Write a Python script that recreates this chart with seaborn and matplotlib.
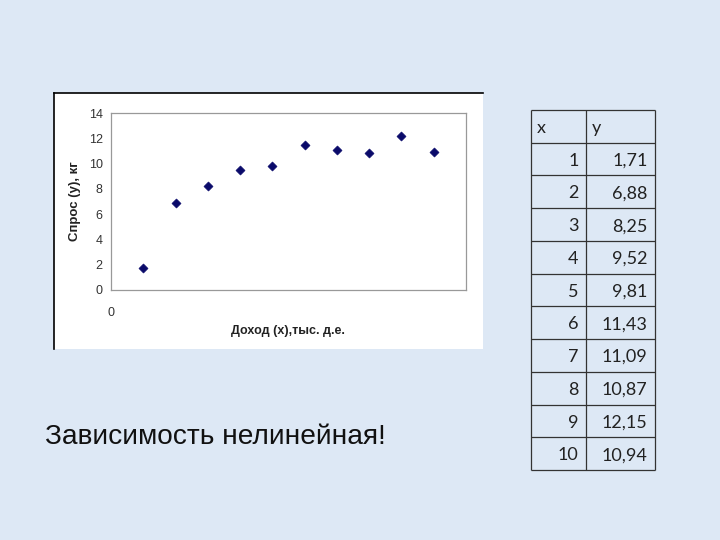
import matplotlib
matplotlib.use("Agg")
import matplotlib.pyplot as plt
import seaborn as sns
import pandas as pd

sns.set_style("white")
plt.rcParams['font.family'] = ['Liberation Sans', 'DejaVu Sans']

# Data
x_income = [1, 2, 3, 4, 5, 6, 7, 8, 9, 10]
y_demand = [1.71, 6.88, 8.25, 9.52, 9.81, 11.43, 11.09, 10.87, 12.15, 10.94]
x_labels = ["1", "2", "3", "4", "5", "6", "7", "8", "9", "10"]
y_labels = ["1,71", "6,88", "8,25", "9,52", "9,81", "11,43", "11,09", "10,87", "12,15", "10,94"]

df = pd.DataFrame({"x": x_income, "y": y_demand})

fig = plt.figure(figsize=(7.2, 5.4), dpi=100)
fig.patch.set_facecolor("#dde8f5")

# -----------------------------
# White chart box (black edge on top and left only)
# -----------------------------
box = fig.add_axes([54 / 720, 1 - 349 / 540, 429 / 720, 256 / 540], zorder=0)
box.set_facecolor("white")
box.set_xticks([])
box.set_yticks([])
for side, s in box.spines.items():
    s.set_color("black")
    s.set_linewidth(1.2)
    s.set_visible(side in ("top", "left"))

# -----------------------------
# Scatter plot
# -----------------------------
ax = fig.add_axes([111 / 720, 1 - 290 / 540, 355 / 720, 177 / 540], zorder=1)
sns.scatterplot(data=df, x="x", y="y", marker="D", color="#0a0a6a",
                s=22, edgecolor="#0a0a6a", ax=ax)
ax.set_xlim(0, 11)
ax.set_ylim(0, 14)
ax.set_yticks(range(0, 15, 2))
ax.set_xticks([0])
ax.tick_params(axis="y", length=0, pad=6, labelsize=9, labelcolor="#333333")
ax.tick_params(axis="x", length=0, pad=12, labelsize=9, labelcolor="#333333")
for s in ax.spines.values():
    s.set_color("#999999")
    s.set_linewidth(0.9)
ax.set_xlabel("")
ax.set_ylabel("")

fig.text(288 / 720, 1 - 331 / 540, "Доход (х),тыс. д.е.", ha="center", va="center",
         fontsize=9, fontweight="bold", color="#222222", zorder=3)
fig.text(75 / 720, 1 - 201 / 540, "Спрос (у), кг", ha="center", va="center",
         rotation=90, fontsize=9.5, fontweight="bold", color="#222222", zorder=3)

# -----------------------------
# Table
# -----------------------------
tab = fig.add_axes([531 / 720, 1 - 470 / 540, 124 / 720, 360 / 540])
tab.set_xlim(0, 1)
tab.set_ylim(11, 0)
tab.axis("off")
split = 55 / 124
tab.hlines(range(0, 12), 0, 1, color="#333333", linewidth=0.9, clip_on=False)
tab.vlines([0, split, 1], 0, 11, color="#333333", linewidth=0.9, clip_on=False)

tfont = ['Lato', 'DejaVu Sans']
tab.text(0.05, 0.55, "x", ha="left", va="center", fontsize=13, family=tfont, color="#222222")
tab.text(split + 0.05, 0.55, "y", ha="left", va="center", fontsize=13, family=tfont, color="#222222")
for i, (xl, yl) in enumerate(zip(x_labels, y_labels)):
    tab.text(split - 0.06, i + 1.55, xl, ha="right", va="center", fontsize=13,
             family=tfont, color="#222222")
    tab.text(0.94, i + 1.55, yl, ha="right", va="center", fontsize=13,
             family=tfont, color="#222222")

# -----------------------------
# Caption
# -----------------------------
fig.text(45 / 720, 1 - 437 / 540, "Зависимость нелинейная!", ha="left", va="center",
         fontsize=20.2, color="#111111")

fig.savefig("out.png", dpi=100, facecolor=fig.get_facecolor())
plt.close()
